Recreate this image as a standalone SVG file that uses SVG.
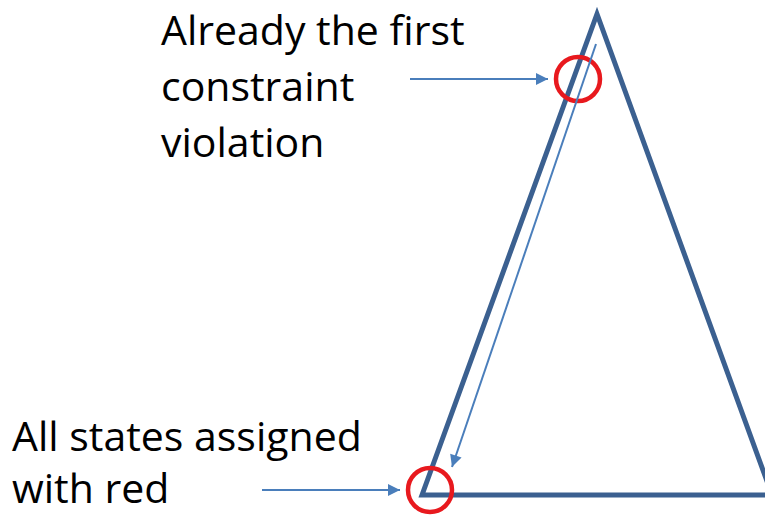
<svg xmlns="http://www.w3.org/2000/svg" width="765" height="515" viewBox="0 0 765 515">
<style>
.lbl{font-family:"Open Sans","Liberation Sans",sans-serif;font-size:41px;fill:#000}
.tri{fill:none;stroke:#3B6090;stroke-width:5;stroke-linejoin:miter}
.arr{fill:none;stroke:#4A7EBB;stroke-width:2}
.ring{fill:none;stroke:#E8191E;stroke-width:4.5}
</style>
<defs>
<marker id="ah" viewBox="0 0 10 10" refX="10" refY="5" markerWidth="6.5" markerHeight="6" orient="auto" markerUnits="strokeWidth">
<path d="M0,0 L10,5 L0,10 z" fill="#4A7EBB"/>
</marker>
</defs>
<g id="triangle"><path class="tri" d="M422,495 L597,14 L772,495 Z"/></g>
<g id="label-top">
<text class="lbl" x="161" y="45">Already the first</text>
<text class="lbl" x="161" y="101">constraint</text>
<text class="lbl" x="161" y="157">violation</text>
</g>
<g id="label-bottom">
<text class="lbl" x="12" y="451">All states assigned</text>
<text class="lbl" x="12" y="503">with red</text>
</g>
<g id="ring-top"><circle class="ring" cx="578" cy="79" r="22"/></g>
<g id="ring-bottom"><circle class="ring" cx="430" cy="490" r="22"/></g>
<g id="connectors">
<line class="arr" x1="410" y1="79" x2="548" y2="79" marker-end="url(#ah)"/>
<line class="arr" x1="262" y1="490" x2="400" y2="490" marker-end="url(#ah)"/>
<line class="arr" x1="596" y1="44" x2="452" y2="467" marker-end="url(#ah)"/>
</g>
</svg>
